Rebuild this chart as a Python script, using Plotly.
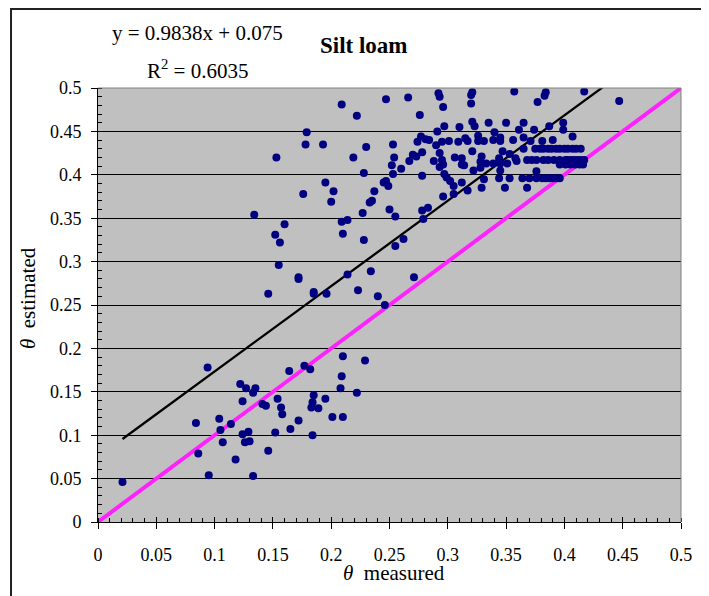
import plotly.graph_objects as go

# ---- data ----
x_measured = [
    0.209, 0.247, 0.222, 0.179, 0.178, 0.193, 0.153, 0.230, 0.253, 0.254,
    0.219, 0.252, 0.253, 0.228, 0.245, 0.247, 0.249, 0.195, 0.202, 0.176,
    0.237, 0.200, 0.233, 0.235, 0.250, 0.255, 0.227, 0.134, 0.209, 0.214,
    0.160, 0.152, 0.156, 0.210, 0.228, 0.255, 0.155, 0.172, 0.172, 0.214,
    0.234, 0.146, 0.185, 0.185, 0.196, 0.223, 0.240, 0.246,
    0.210, 0.229, 0.094, 0.164, 0.177, 0.182, 0.209, 0.208, 0.222, 0.122,
    0.127, 0.135, 0.133, 0.124, 0.185, 0.184, 0.183, 0.195, 0.189, 0.154,
    0.157, 0.158, 0.141, 0.144, 0.201, 0.210, 0.172, 0.165, 0.084, 0.104,
    0.105, 0.114, 0.124, 0.129, 0.126, 0.130, 0.152, 0.184, 0.107, 0.086,
    0.146, 0.118, 0.095, 0.133, 0.021,
    0.266, 0.292, 0.293, 0.321, 0.320, 0.320, 0.357, 0.384, 0.383, 0.377,
    0.417, 0.447, 0.296, 0.276, 0.321, 0.323, 0.297, 0.310, 0.335, 0.350,
    0.365, 0.387, 0.399, 0.399, 0.291, 0.340, 0.361, 0.374, 0.407, 0.277,
    0.281, 0.274, 0.284, 0.295, 0.301, 0.309, 0.315, 0.317, 0.326, 0.326,
    0.331, 0.339, 0.345, 0.345, 0.356, 0.365, 0.371, 0.381, 0.390, 0.290,
    0.293, 0.278, 0.270, 0.273, 0.267, 0.321, 0.347, 0.365, 0.353,
    0.375, 0.379, 0.382, 0.386, 0.389, 0.393, 0.396, 0.400, 0.403, 0.407,
    0.410, 0.414,
    0.288, 0.295, 0.306, 0.312, 0.329, 0.328, 0.333, 0.339, 0.344, 0.345,
    0.351, 0.358, 0.359,
    0.368, 0.372, 0.376, 0.382, 0.386, 0.391, 0.396, 0.401, 0.403, 0.406,
    0.409, 0.412, 0.415, 0.417,
    0.396, 0.401, 0.405, 0.409, 0.413, 0.416,
    0.293, 0.296, 0.312, 0.314, 0.260, 0.297, 0.299, 0.322, 0.328, 0.345,
    0.376, 0.278, 0.302, 0.305, 0.312, 0.331, 0.344, 0.353,
    0.364, 0.370, 0.376, 0.381, 0.384, 0.387, 0.390, 0.393, 0.396,
    0.329, 0.317, 0.349, 0.368, 0.305, 0.296, 0.278, 0.283, 0.279, 0.262,
    0.271,
]
y_estimated = [
    0.481, 0.487, 0.468, 0.449, 0.435, 0.435, 0.420, 0.432, 0.435, 0.420,
    0.420, 0.411, 0.401, 0.402, 0.391, 0.393, 0.387, 0.391, 0.381, 0.378,
    0.381, 0.369, 0.368, 0.370, 0.360, 0.352, 0.356, 0.354, 0.346, 0.348,
    0.343, 0.331, 0.322, 0.332, 0.325, 0.318, 0.296, 0.282, 0.280, 0.285,
    0.289, 0.263, 0.265, 0.263, 0.263, 0.267, 0.260, 0.250,
    0.191, 0.186, 0.178, 0.174, 0.180, 0.176, 0.168, 0.154, 0.149, 0.159,
    0.154, 0.154, 0.149, 0.139, 0.146, 0.138, 0.132, 0.142, 0.131, 0.142,
    0.132, 0.124, 0.136, 0.134, 0.121, 0.121, 0.117, 0.107, 0.114, 0.119,
    0.106, 0.113, 0.101, 0.104, 0.092, 0.093, 0.103, 0.100, 0.092, 0.079,
    0.082, 0.072, 0.054, 0.053, 0.046,
    0.489, 0.494, 0.490, 0.495, 0.492, 0.482, 0.496, 0.495, 0.491, 0.484,
    0.496, 0.485, 0.478, 0.469, 0.461, 0.456, 0.456, 0.455, 0.460, 0.460,
    0.460, 0.456, 0.460, 0.452, 0.450, 0.449, 0.452, 0.452, 0.444, 0.444,
    0.441, 0.438, 0.440, 0.438, 0.439, 0.438, 0.442, 0.439, 0.445, 0.439,
    0.439, 0.440, 0.443, 0.439, 0.440, 0.443, 0.439, 0.439, 0.440, 0.434,
    0.425, 0.426, 0.423, 0.421, 0.416, 0.427, 0.427, 0.430, 0.424,
    0.430, 0.430, 0.430, 0.430, 0.430, 0.430, 0.430, 0.430, 0.430, 0.430,
    0.430, 0.430,
    0.416, 0.417, 0.420, 0.419, 0.421, 0.415, 0.413, 0.413, 0.419, 0.413,
    0.413, 0.419, 0.416,
    0.417, 0.417, 0.417, 0.417, 0.417, 0.417, 0.417, 0.417, 0.417, 0.417,
    0.417, 0.417, 0.417, 0.417,
    0.412, 0.412, 0.412, 0.412, 0.412, 0.412,
    0.409, 0.412, 0.412, 0.411, 0.407, 0.401, 0.397, 0.405, 0.408, 0.405,
    0.404, 0.399, 0.393, 0.387, 0.391, 0.395, 0.396, 0.396,
    0.396, 0.396, 0.396, 0.396, 0.396, 0.396, 0.396, 0.396, 0.396,
    0.385, 0.382, 0.385, 0.385, 0.378, 0.375, 0.359, 0.362, 0.349, 0.326,
    0.282,
]

trend_slope = 0.9838
trend_intercept = 0.075
r_squared = 0.6035
one_to_one = [0, 0.5]

tick_vals = [0, 0.05, 0.1, 0.15, 0.2, 0.25, 0.3, 0.35, 0.4, 0.45, 0.5]
tick_text = ["0", "0.05", "0.1", "0.15", "0.2", "0.25", "0.3", "0.35", "0.4", "0.45", "0.5"]

chart_title = "Silt loam"
x_title = "<i>θ</i>  measured"
y_title = "<i>θ</i>  estimated"

# ---- figure ----
FONT = "Liberation Serif, Times New Roman, serif"

trend_x = [min(x_measured), max(x_measured)]
trend_y = [trend_slope * v + trend_intercept for v in trend_x]

fig = go.Figure()
fig.add_trace(go.Scatter(x=one_to_one, y=one_to_one, mode="lines",
                         line=dict(color="#FF22FF", width=4), hoverinfo="skip"))
fig.add_trace(go.Scatter(x=trend_x, y=trend_y, mode="lines",
                         line=dict(color="black", width=2.3), hoverinfo="skip"))
fig.add_trace(go.Scatter(x=x_measured, y=y_estimated, mode="markers",
                         marker=dict(color="#000080", size=8, line=dict(width=0))))
# invisible trace to host the overlay axes (inside part of crossing ticks)
fig.add_trace(go.Scatter(x=[None], y=[None], xaxis="x2", yaxis="y2",
                         mode="markers", hoverinfo="skip"))

axis_common = dict(range=[0, 0.5], tickvals=tick_vals, ticktext=tick_text,
                   showline=True, linecolor="black", linewidth=1,
                   ticks="outside", ticklen=6, tickcolor="black", tickwidth=1,
                   zeroline=False,
                   tickfont=dict(family=FONT, size=18, color="black"),
                   minor=dict(dtick=0.01, ticks="inside", ticklen=4,
                              tickcolor="black", tickwidth=1, showgrid=False))

fig.update_layout(
    width=709, height=596,
    margin=dict(l=90, r=36, t=80, b=82, autoexpand=False),
    paper_bgcolor="white",
    plot_bgcolor="#C0C0C0",
    showlegend=False,
    font=dict(family=FONT, color="black"),
    xaxis=dict(**axis_common, showgrid=False, ticklabelstandoff=10),
    yaxis=dict(**axis_common, showgrid=True, gridcolor="black", gridwidth=1,
               ticklabelstandoff=6),
    xaxis2=dict(range=[0, 0.5], tickvals=tick_vals, overlaying="x", anchor="y",
                side="bottom", ticks="inside", ticklen=5, tickcolor="black",
                showticklabels=False, showgrid=False, showline=False, zeroline=False),
    yaxis2=dict(range=[0, 0.5], tickvals=tick_vals, overlaying="y", anchor="x",
                side="left", ticks="inside", ticklen=3, tickcolor="black",
                showticklabels=False, showgrid=False, showline=False, zeroline=False),
    shapes=[
        dict(type="line", xref="paper", yref="paper", x0=0, y0=1, x1=1, y1=1,
             line=dict(color="#808080", width=1)),
        dict(type="line", xref="paper", yref="paper", x0=1, y0=0, x1=1, y1=1,
             line=dict(color="#808080", width=1)),
        dict(type="rect", xref="paper", yref="paper", x0=-0.1492, y0=-0.25,
             x1=1.08, y1=1.182, line=dict(color="#222222", width=2)),
    ],
    annotations=[
        dict(text=f"y = {trend_slope}x + {trend_intercept}", xref="paper", yref="paper",
             x=0.1715, y=1.1267, showarrow=False, xanchor="center", yanchor="middle",
             font=dict(family=FONT, size=21)),
        dict(text=f"R<sup>2</sup> = {r_squared}", xref="paper", yref="paper",
             x=0.1715, y=1.0415, showarrow=False, xanchor="center", yanchor="middle",
             font=dict(family=FONT, size=21)),
        dict(text=f"<b>{chart_title}</b>", xref="paper", yref="paper",
             x=0.456, y=1.0968, showarrow=False, xanchor="center", yanchor="middle",
             font=dict(family=FONT, size=23)),
        dict(text=x_title, xref="paper", yref="paper",
             x=0.507, y=-0.118, showarrow=False, xanchor="center", yanchor="middle",
             font=dict(family=FONT, size=21)),
        dict(text=y_title, xref="paper", yref="paper", textangle=-90,
             x=-0.120, y=0.516, showarrow=False, xanchor="center", yanchor="middle",
             font=dict(family=FONT, size=21)),
    ],
)

fig.write_html("out.html")
